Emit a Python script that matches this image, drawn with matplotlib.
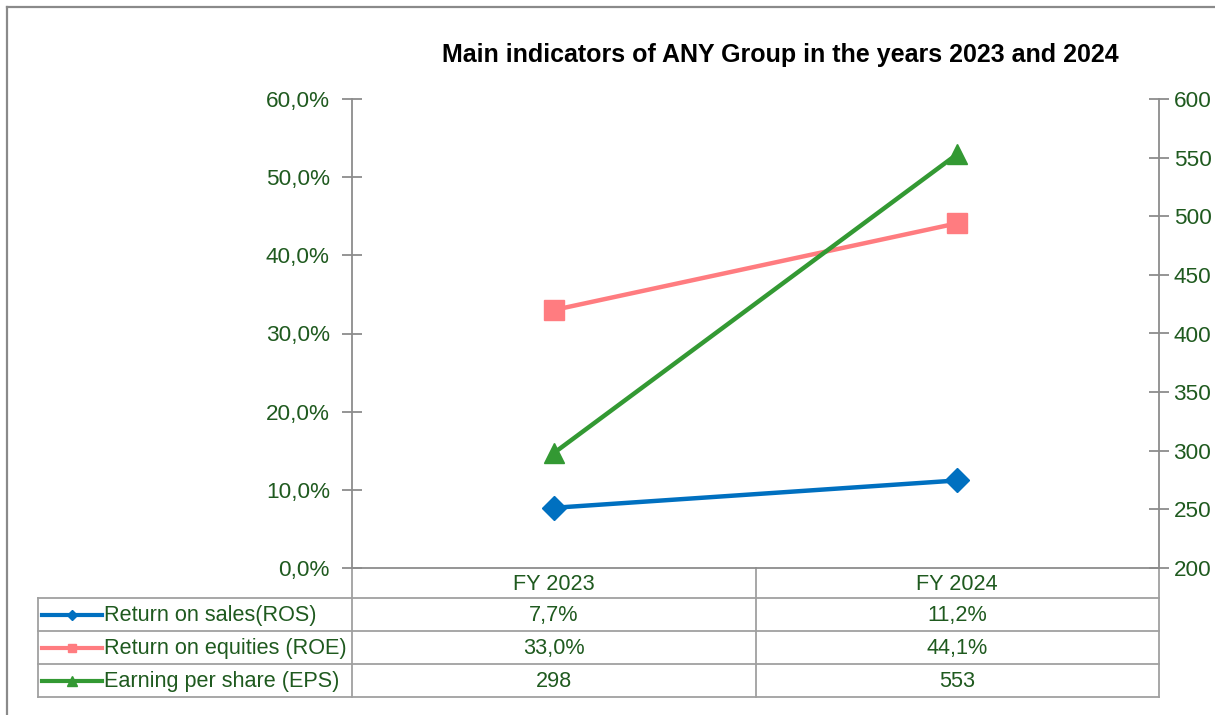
import matplotlib
matplotlib.use("Agg")
import matplotlib.pyplot as plt

plt.rcParams['font.family'] = ['Liberation Sans', 'DejaVu Sans']

# ---- data ----
categories = ["FY 2023", "FY 2024"]
series_names = ["Return on sales(ROS)", "Return on equities (ROE)", "Earning per share (EPS)"]
ros = [7.7, 11.2]
roe = [33.0, 44.1]
eps = [298, 553]
left_ticks = [0, 10, 20, 30, 40, 50, 60]
right_ticks = [200, 250, 300, 350, 400, 450, 500, 550, 600]
title = "Main indicators of ANY Group in the years 2023 and 2024"

# ---- style ----
W, H = 1215, 715
c_ros = "#0070C0"
c_roe = "#FF7C80"
c_eps = "#339933"
txt_c = "#1F5A1F"
axis_c = "#8C8C8C"
fs = 16.2
fs_tbl = 15.6

fig = plt.figure(figsize=(W / 100, H / 100), dpi=100)

def fx(px):
    return px / W

def fy(py):
    return 1 - py / H

x_left, x_right = 352, 1159
y_top, y_bot = 99, 568
ax = fig.add_axes([fx(x_left), fy(y_bot), fx(x_right - x_left), (y_bot - y_top) / H])
ax2 = ax.twinx()

xs = list(range(len(categories)))
ax.plot(xs, ros, color=c_ros, lw=3.2, marker='D', ms=12, zorder=3, clip_on=False)
ax.plot(xs, roe, color=c_roe, lw=3.2, marker='s', ms=14, zorder=3, clip_on=False)
ax2.plot(xs, eps, color=c_eps, lw=3.2, marker='^', ms=15, zorder=3, clip_on=False)

ax.set_xlim(-0.5, len(categories) - 0.5)
ax.set_ylim(left_ticks[0], left_ticks[-1])
ax2.set_ylim(right_ticks[0], right_ticks[-1])
ax.set_yticks(left_ticks)
ax.set_yticklabels([f"{v:.1f}%".replace('.', ',') for v in left_ticks])
ax2.set_yticks(right_ticks)
ax2.set_yticklabels([str(v) for v in right_ticks])
ax.set_xticks([])

for a in (ax, ax2):
    a.set_facecolor('none')
    for s in a.spines.values():
        s.set_color(axis_c)
        s.set_linewidth(1.3)
    a.spines['top'].set_visible(False)
ax.spines['right'].set_visible(False)
ax2.spines['left'].set_visible(False)
ax2.spines['bottom'].set_visible(False)
ax.tick_params(axis='y', direction='inout', length=14, width=1.3, color=axis_c,
               labelcolor=txt_c, labelsize=fs, pad=9)
ax2.tick_params(axis='y', direction='inout', length=14, width=1.3, color=axis_c,
                labelcolor=txt_c, labelsize=fs, pad=3.5)

fig.text(fx(780), fy(55), title, ha='center', va='center', fontsize=18,
         fontweight='bold', color='black')

# ---- overlay for table & frame ----
ov = fig.add_axes([0, 0, 1, 1], zorder=-1)
ov.set_xlim(0, W)
ov.set_ylim(H, 0)
ov.axis('off')

# outer frame
ov.plot([7, W + 5], [7, 7], color='#8A8A8A', lw=1.6)
ov.plot([7, 7], [7, H + 5], color='#8A8A8A', lw=1.6)

tbl_left = 38
col_div = (x_left + x_right) / 2
row_edges = [568, 598, 631, 664, 697]
gc = '#A0A0A0'
for y in row_edges[1:]:
    ov.plot([tbl_left, x_right], [y, y], color=gc, lw=1.3)
ov.plot([tbl_left, tbl_left], [row_edges[1], row_edges[-1]], color=gc, lw=1.3)
ov.plot([x_left, x_left], [y_bot, row_edges[-1]], color=gc, lw=1.3)
ov.plot([col_div, col_div], [y_bot, row_edges[-1]], color=gc, lw=1.3)
ov.plot([x_right, x_right], [y_bot, row_edges[-1]], color=gc, lw=1.3)

col_centers = [(x_left + col_div) / 2, (col_div + x_right) / 2]
for cx, cat in zip(col_centers, categories):
    ov.text(cx, (row_edges[0] + row_edges[1]) / 2 + 1, cat, ha='center', va='center',
            fontsize=fs_tbl, color=txt_c)

row_vals = [
    [f"{v:.1f}%".replace('.', ',') for v in ros],
    [f"{v:.1f}%".replace('.', ',') for v in roe],
    [str(v) for v in eps],
]
colors = [c_ros, c_roe, c_eps]
markers = ['D', 's', '^']
msz = [5, 6, 7]
for i in range(3):
    yc = (row_edges[i + 1] + row_edges[i + 2]) / 2
    ov.plot([42, 102], [yc, yc], color=colors[i], lw=3)
    ov.plot([72], [yc], color=colors[i], marker=markers[i], ms=msz[i])
    ov.text(104, yc + 1, series_names[i], ha='left', va='center', fontsize=fs_tbl, color=txt_c)
    for cx, val in zip(col_centers, row_vals[i]):
        ov.text(cx, yc + 1, val, ha='center', va='center', fontsize=fs_tbl, color=txt_c)

fig.savefig("out.png", dpi=100, facecolor='white')
